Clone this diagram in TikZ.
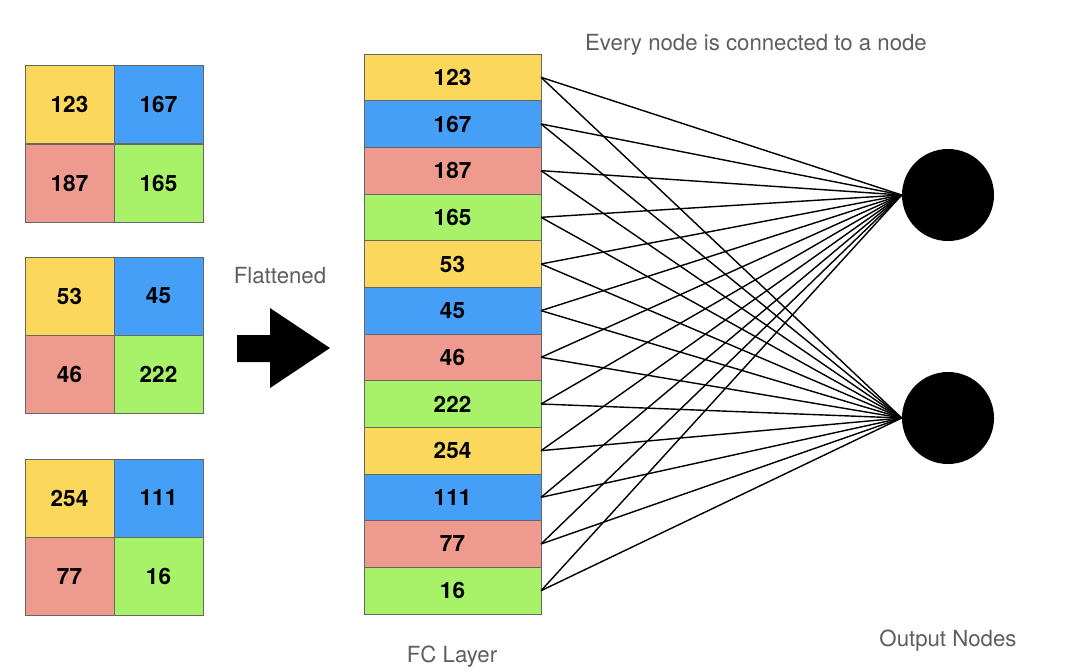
\documentclass[tikz,border=0pt]{standalone}
\usepackage{fontspec}
\setmainfont{TeX Gyre Heros}
\definecolor{cyel}{HTML}{FBD75B}
\definecolor{cblu}{HTML}{469FF7}
\definecolor{cred}{HTML}{EE9A8F}
\definecolor{cgrn}{HTML}{A7F268}
\definecolor{ctxt}{HTML}{5E5E5E}

\begin{document}
\begin{tikzpicture}[x=0.025cm, y=-0.025cm,
  cell/.style={draw=black!60, line width=0.6pt, rectangle,
    minimum width=2.225cm, minimum height=1.95cm, outer sep=0pt,
    font=\fontsize{16}{19}\selectfont\bfseries},
  fcrow/.style={cell, minimum width=4.425cm, minimum height=1.1667cm},
  note/.style={text=ctxt, font=\fontsize{15.8}{19}\selectfont},
  wire/.style={line width=1pt}]
  \useasboundingbox (0,0) rectangle (1076,671);

  % input feature maps
  \node (a1) at (69.5,104.5) [cell, fill=cyel] {123};
  \node (a2) at (158.5,104.5) [cell, fill=cblu] {167};
  \node (a3) at (69.5,183) [cell, fill=cred] {187};
  \node (a4) at (158.5,183) [cell, fill=cgrn] {165};

  \node (b1) at (69.5,296) [cell, fill=cyel] {53};
  \node (b2) at (158.5,296) [cell, fill=cblu] {45};
  \node (b3) at (69.5,374.5) [cell, fill=cred] {46};
  \node (b4) at (158.5,374.5) [cell, fill=cgrn] {222};

  \node (c1) at (69.5,498) [cell, fill=cyel] {254};
  \node (c2) at (158.5,498) [cell, fill=cblu] {111};
  \node (c3) at (69.5,576.5) [cell, fill=cred] {77};
  \node (c4) at (158.5,576.5) [cell, fill=cgrn] {16};

  % flatten arrow
  \node (flat) at (280,276) [note] {Flattened};
  \fill (237,335) -- (270,335) -- (270,308) -- (330,348)
    -- (270,388) -- (270,362) -- (237,362) -- cycle;

  % fc layer
  \foreach \v/\c [count=\i] in {123/cyel,167/cblu,187/cred,165/cgrn,
      53/cyel,45/cblu,46/cred,222/cgrn,254/cyel,111/cblu,77/cred,16/cgrn}
    \node (f\i) at (452.5,{77.3+46.67*(\i-1)}) [fcrow, fill=\c] {\v};

  % output nodes
  \node (o1) at (948,195) [circle, fill=black, minimum size=2.3cm,
    inner sep=0pt] {};
  \node (o2) at (948,418) [circle, fill=black, minimum size=2.3cm,
    inner sep=0pt] {};

  \foreach \i in {1,...,12} {
    \draw[wire] (f\i.east) -- (o1.west);
    \draw[wire] (f\i.east) -- (o2.west);
  }

  \node (every) at (756,45) [note] {Every node is connected to a node};
  \node (fc) at (452,657) [note] {FC Layer};
  \node (out) at (948,641) [note] {Output Nodes};
\end{tikzpicture}
\end{document}
